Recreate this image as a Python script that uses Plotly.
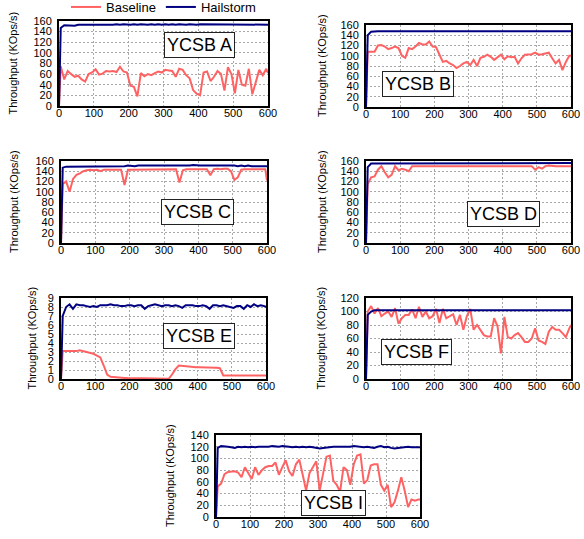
import plotly.graph_objects as go

T = [0] + list(range(5, 600, 10)) + [600]

A_base = [0,
          75, 50, 66, 60, 55, 57, 50, 46, 60, 63,
          69, 59, 61, 66, 65, 66, 64, 74, 65, 63,
          38, 36, 18, 62, 56, 60, 58, 62, 65, 63,
          68, 67, 66, 55, 70, 68, 58, 52, 30, 23,
          20, 63, 65, 47, 55, 66, 60, 29, 73, 60,
          24, 68, 40, 38, 70, 22, 45, 68, 58, 70,
          62]
A_hail = [0,
          147, 152, 152, 151, 151, 153, 153, 153, 153, 153,
          153, 152, 153, 153, 153, 153, 154, 153, 154, 153,
          153, 154, 153, 154, 153, 153, 154, 153, 154, 153,
          154, 153, 154, 153, 154, 153, 153, 154, 153, 153,
          154, 154, 153, 154, 154, 154, 154, 153, 154, 154,
          154, 154, 154, 154, 154, 154, 154, 154, 154, 153,
          153]

B_base = [0,
          108, 108, 108, 120, 121, 118, 113, 115, 118, 115,
          100, 96, 115, 113, 118, 125, 122, 122, 128, 118,
          117, 102, 88, 90, 85, 82, 76, 80, 85, 88,
          82, 92, 80, 96, 98, 102, 98, 92, 97, 102,
          93, 99, 97, 98, 85, 95, 102, 103, 103, 106,
          102, 103, 104, 106, 95, 85, 92, 72, 88, 100,
          100]
B_hail = [0,
          140, 147, 148, 148, 148, 148, 148, 148, 148, 148,
          148, 148, 148, 148, 148, 148, 148, 148, 148, 148,
          148, 148, 148, 148, 148, 148, 148, 148, 148, 148,
          148, 148, 148, 148, 148, 148, 148, 148, 148, 148,
          148, 148, 148, 148, 148, 148, 148, 148, 148, 148,
          148, 148, 148, 148, 148, 148, 148, 148, 148, 148,
          148]

C_base = [0,
          115, 120, 100, 125, 133, 136, 140, 142, 143, 142,
          143, 140, 143, 143, 143, 143, 143, 143, 113, 143,
          143, 143, 143, 143, 144, 143, 144, 144, 144, 144,
          143, 144, 144, 144, 118, 142, 144, 144, 145, 145,
          144, 145, 144, 132, 144, 145, 144, 145, 145, 140,
          123, 128, 143, 144, 144, 145, 144, 144, 144, 144,
          122]
C_hail = [0,
          147, 149, 149, 149, 149, 149, 149, 149, 150, 150,
          150, 150, 150, 150, 150, 150, 150, 150, 150, 151,
          150, 150, 151, 151, 151, 150, 151, 151, 151, 150,
          151, 151, 151, 151, 151, 151, 150, 151, 152, 151,
          151, 151, 151, 151, 151, 151, 152, 152, 151, 151,
          151, 150, 151, 150, 151, 150, 150, 150, 150, 149,
          150]

D_base = [0,
          115, 128, 130, 143, 150, 138, 128, 133, 150, 142,
          145, 143, 140, 150, 150, 150, 151, 151, 151, 150,
          150, 151, 151, 151, 150, 151, 151, 150, 151, 151,
          151, 150, 150, 151, 151, 151, 150, 151, 151, 151,
          151, 150, 151, 151, 151, 151, 151, 150, 150, 143,
          148, 145, 150, 151, 150, 150, 150, 150, 150, 150,
          150]
D_hail = [0,
          148, 155, 155, 155, 155, 155, 155, 155, 155, 155,
          155, 155, 155, 155, 155, 155, 155, 156, 155, 155,
          156, 155, 156, 155, 156, 156, 155, 156, 156, 156,
          156, 156, 155, 156, 156, 156, 156, 156, 156, 156,
          156, 156, 156, 156, 156, 156, 156, 156, 156, 156,
          156, 156, 156, 156, 156, 156, 156, 156, 156, 156,
          156]

E_base = [0,
          3.1, 3.1, 3.1, 3.1, 3.1, 3.2, 3.1, 3.0, 2.9, 2.8,
          2.6, 2.4, 1.5, 0.5, 0.25, 0.2, 0.15, 0.15, 0.12, 0.1,
          0.1, 0.1, 0.1, 0.08, 0.08, 0.06, 0.05, 0.05, 0.05, 0.05,
          0.03, 0.02, 0.5, 1.1, 1.5, 1.45, 1.4, 1.35, 1.3, 1.3,
          1.3, 1.3, 1.3, 1.3, 1.3, 1.25, 1.2, 0.4, 0.4, 0.4,
          0.4, 0.4, 0.4, 0.4, 0.4, 0.4, 0.4, 0.4, 0.4, 0.4,
          0.4]
E_hail = [0,
          7.0, 8.0, 8.3, 7.8, 8.3, 8.2, 8.2, 8.1, 8.0, 8.1,
          8.0, 8.2, 8.2, 8.2, 8.3, 8.2, 8.2, 8.1, 8.1, 8.2,
          8.2, 8.1, 8.2, 8.2, 7.8, 8.1, 8.2, 8.3, 8.2, 8.1,
          8.2, 8.2, 8.1, 8.2, 8.1, 7.9, 8.2, 8.2, 8.2, 8.1,
          8.1, 8.2, 8.1, 7.8, 8.2, 8.2, 8.1, 8.2, 8.1, 8.0,
          7.9, 8.1, 8.1, 7.8, 8.2, 8.0, 8.3, 8.1, 8.2, 8.1,
          8.0]

F_base = [0,
          100, 108, 97, 105, 93, 97, 100, 92, 105, 82,
          90, 95, 95, 103, 90, 107, 92, 100, 90, 93,
          104, 83, 104, 90, 93, 96, 80, 95, 73, 93,
          104, 73, 80, 73, 65, 63, 63, 90, 78, 38,
          92, 62, 60, 65, 68, 62, 55, 55, 60, 75,
          57, 55, 52, 70, 77, 73, 73, 68, 62, 75,
          80]
F_hail = [0,
          95, 100, 102, 102, 102, 102, 102, 102, 102, 102,
          102, 102, 102, 102, 102, 102, 102, 102, 102, 102,
          102, 102, 102, 102, 102, 102, 102, 102, 102, 102,
          102, 102, 102, 102, 102, 102, 102, 102, 102, 101,
          102, 102, 102, 102, 102, 102, 102, 102, 102, 102,
          102, 102, 101, 102, 102, 102, 102, 102, 102, 102,
          102]

I_base = [0,
          52, 57, 73, 77, 78, 78, 76, 68, 85, 75,
          65, 85, 72, 80, 85, 87, 87, 93, 72, 85,
          97, 78, 70, 90, 98, 72, 45, 75, 85, 95,
          45, 75, 103, 105, 62, 55, 43, 85, 80, 55,
          90, 105, 107, 57, 63, 88, 90, 90, 55, 45,
          55, 17, 25, 45, 68, 45, 17, 30, 28, 30,
          30]
I_hail = [0,
          118, 121, 121, 120, 119, 118, 120, 119, 120, 119,
          120, 119, 120, 120, 119, 120, 121, 120, 120, 121,
          121, 120, 119, 120, 119, 120, 119, 120, 119, 118,
          117, 118, 119, 119, 120, 120, 120, 119, 120, 120,
          121, 120, 120, 119, 120, 119, 118, 120, 121, 119,
          120, 118, 117, 118, 119, 119, 120, 119, 119, 120,
          119]

panels = [
    # name, base, hail, ymax, dtick, xdom(px), ydom(px), label pos, ytitle x(px)
    ("YCSB A", A_base, A_hail, 160, 20, (59, 268), (21, 106), (403, 115), 12),
    ("YCSB B", B_base, B_hail, 160, 20, (366, 571), (25, 107), (152, 45), 322),
    ("YCSB C", C_base, C_hail, 160, 20, (61, 267), (161, 243), (399, 60), 14),
    ("YCSB D", D_base, D_hail, 160, 20, (366, 571), (161, 243), (401, 57), 322),
    ("YCSB E", E_base, E_hail, 9, 1, (61, 266), (298, 379), (404, 4.8), 31),
    ("YCSB F", F_base, F_hail, 120, 20, (366, 571), (298, 379), (149, 40), 320),
    ("YCSB I", I_base, I_hail, 140, 20, (216, 420), (435, 517), (347, 24), 170),
]

W, H = 584, 539
RED = "#ff6262"
NAVY = "#000080"
GRID = "#a8a8a8"
FONT = "Liberation Sans, Arial, sans-serif"

fig = go.Figure()
layout = dict(
    width=W, height=H, margin=dict(l=0, r=0, t=0, b=0, autoexpand=False),
    paper_bgcolor="white", plot_bgcolor="white",
    font=dict(family=FONT, size=11, color="black"),
    showlegend=True,
    legend=dict(orientation="h", x=66 / W, xanchor="left", y=1 - 7 / H,
                yanchor="middle", font=dict(size=13), bgcolor="rgba(0,0,0,0)",
                tracegroupgap=0),
    annotations=[],
)

for i, (name, base, hail, ymax, dt, xd, yd, lab, tx) in enumerate(panels):
    k = i + 1
    xa = "x" if k == 1 else f"x{k}"
    ya = "y" if k == 1 else f"y{k}"
    fig.add_trace(go.Scatter(x=T, y=base, mode="lines", name="Baseline",
                             line=dict(color=RED, width=2), xaxis=xa, yaxis=ya,
                             showlegend=(k == 1), legendgroup="b"))
    fig.add_trace(go.Scatter(x=T, y=hail, mode="lines", name="Hailstorm",
                             line=dict(color=NAVY, width=2), xaxis=xa, yaxis=ya,
                             showlegend=(k == 1), legendgroup="h"))
    xkey = "xaxis" if k == 1 else f"xaxis{k}"
    ykey = "yaxis" if k == 1 else f"yaxis{k}"
    layout[xkey] = dict(domain=[xd[0] / W, xd[1] / W], anchor=ya, range=[0, 600],
                        dtick=100, tick0=0, showline=True, mirror=True, linewidth=2,
                        linecolor="black", showgrid=True, gridcolor=GRID,
                        griddash="2px,2px", gridwidth=1, zeroline=False, ticks="",
                        ticklabelstandoff=-4, tickfont=dict(size=11))
    layout[ykey] = dict(domain=[1 - yd[1] / H, 1 - yd[0] / H], anchor=xa,
                        range=[0, ymax], dtick=dt, tick0=0, showline=True, mirror=True,
                        linewidth=2, linecolor="black", showgrid=True,
                        gridcolor=GRID, griddash="2px,2px", gridwidth=1,
                        zeroline=False, ticks="", ticklabelstandoff=3,
                        tickfont=dict(size=11))
    layout["annotations"].append(dict(
        x=lab[0], y=lab[1], xref=xa, yref=ya, text=name, showarrow=False,
        font=dict(size=18, color="black"), bgcolor="white",
        bordercolor="#222222", borderwidth=1, borderpad=2))
    layout["annotations"].append(dict(
        x=tx / W, y=1 - (yd[0] + yd[1]) / 2 / H, xref="paper", yref="paper",
        text="Throughput (KOps/s)", textangle=-90, showarrow=False,
        font=dict(size=11, color="black"), xanchor="center", yanchor="middle"))

fig.update_layout(**layout)
fig.write_html("out.html")
